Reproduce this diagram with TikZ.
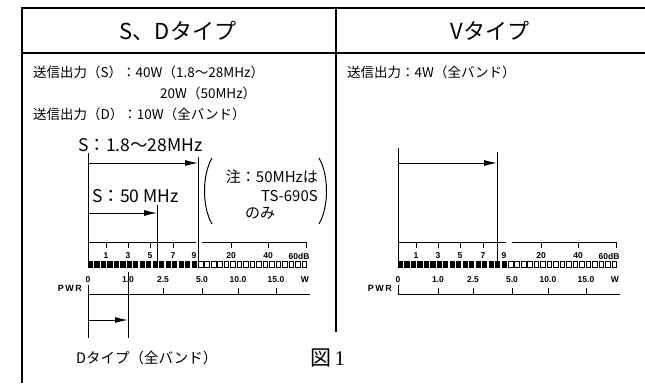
\documentclass[tikz,border=0pt]{standalone}
\usepackage{fontspec}
\setmainfont{Noto Sans CJK JP}
\newfontfamily\tickfont{Liberation Sans}
\newfontfamily\figfont{Liberation Serif}
\usetikzlibrary{arrows.meta, positioning, calc}

\tikzset{
  frame/.style={line width=1.2pt},
  guide/.style={line width=1pt},
  span/.style={line width=1pt, -{Latex[length=13pt,width=6pt]}},
  body/.style={font=\fontsize{13.5}{16}\selectfont, inner sep=0pt, anchor=west},
  note/.style={font=\fontsize{15}{17}\selectfont, inner sep=0pt, anchor=west},
  big/.style={font=\fontsize{17.5}{19}\selectfont, inner sep=0pt, anchor=west},
  head/.style={font=\fontsize{22}{24}\selectfont, inner sep=0pt},
  ticklab/.style={font=\tickfont\bfseries\fontsize{8.5}{9}\selectfont, inner sep=0pt},
  seg/.style={line width=0.6pt},
}

\begin{document}
\begin{tikzpicture}[x=1pt, y=-1pt]
    \useasboundingbox (0,0) rectangle (645,383);

    % Table frame
    \draw[frame] (645,8) -- (22,8) -- (22,383);
    \draw[frame] (22,53) -- (645,53);
    \draw[frame] (336,8) -- (336,332);

    % Headers
    \node[head] (hsd) at (178,31) {S、Dタイプ};
    \node[head] (hv) at (490,31) {Vタイプ};

    % Output ratings
    \node[body] (sdS) at (33,72) {送信出力（S）：40W（1.8～28MHz）};
    \node[body] (sdS2) at (160,93) {20W（50MHz）};
    \node[body] (sdD) at (33,114) {送信出力（D）：10W（全バンド）};
    \node[body] (vout) at (347,72) {送信出力：4W（全バンド）};

    % Meter scales (S/D and V)
    \foreach \ox/\nm in {88/sd, 398/v} {
      \begin{scope}[shift={(\ox,0)}]
        % dB scale
        \draw[guide] (0,242) -- (108,242);
        \draw[guide] (114,242) -- (218,242);
        \foreach \t in {18,40,62,85,143,180,218}
          \draw[guide] (\t,242) -- (\t,248);
        \foreach \t/\l in {18/1, 40/3, 62/5, 85/7, 106/9, 143/20, 180/40, 211/60dB}
          \node[ticklab] (\nm db\t) at (\t,256) {\l};
        % segment bar
        \foreach \i in {0,...,16}
          \fill (\i*6.47,261) rectangle ++(5.2,7);
        \foreach \i in {17,...,33}
          \draw[seg] (\i*6.47+0.3,261.3) rectangle ++(4.6,6.4);
        % power scale
        \foreach \t/\l in {0/0, 40/1.0, 75/2.5, 114/5.0, 150/10.0, 188/15.0, 217/W}
          \node[ticklab] (\nm pw\t) at (\t,280) {\l};
        \draw[guide] (0,294) -- (222,294);
        \draw[guide] (0,285) -- (0,294);
        \foreach \t in {40,75,114,150,188}
          \draw[guide] (\t,288) -- (\t,294);
        \node[ticklab, anchor=east, font=\tickfont\bfseries\fontsize{9}{10}\selectfont] (\nm pwr) at (-6,288) {P\,W\,R};
      \end{scope}
    }

    % S/D ranges
    \coordinate (hiL) at (88,163);
    \coordinate (hiR) at (198,163);
    \coordinate (sixL) at (88,213);
    \coordinate (sixR) at (157,213);
    \coordinate (dL) at (88,320);
    \coordinate (dR) at (128,320);
    \draw[guide] (88,153) -- (88,261);
    \draw[guide] (198,157) -- (198,268);
    \draw[guide] (157,205) -- (157,268);
    \draw[guide] (88,285) -- (88,338);
    \draw[guide] (128,272) -- (128,338);
    \draw[span] (hiL) -- (hiR);
    \draw[span] (sixL) -- (sixR);
    \draw[span] (dL) -- (dR);
    \node[big] (hilab) at (78,145) {S：1.8～28MHz};
    \node[big] (sixlab) at (92,196) {S：50 MHz};
    \node[body, font=\fontsize{14.5}{16}\selectfont] (dlab) at (76,358) {Dタイプ（全バンド）};

    % Note in brackets
    \node[note, anchor=east] (note1) at (318,177) {注：50MHzは};
    \node[note, anchor=east] (note2) at (318,196) {TS-690S};
    \node[note] (note3) at (245,213) {のみ};
    \draw[guide] (212,158) .. controls (202,175) and (202,207) .. (212,224);
    \draw[guide] (319,158) .. controls (329,175) and (329,207) .. (319,224);

    % V range
    \coordinate (vL) at (398,163);
    \coordinate (vR) at (497,163);
    \draw[guide] (398,148) -- (398,261);
    \draw[guide] (497,152) -- (497,268);
    \draw[span] (vL) -- (vR);

    % Figure caption
    \node[inner sep=0pt, anchor=west, font=\fontsize{21}{22}\selectfont] (cap) at (310,358) {図\,{\figfont 1}};
\end{tikzpicture}
\end{document}
